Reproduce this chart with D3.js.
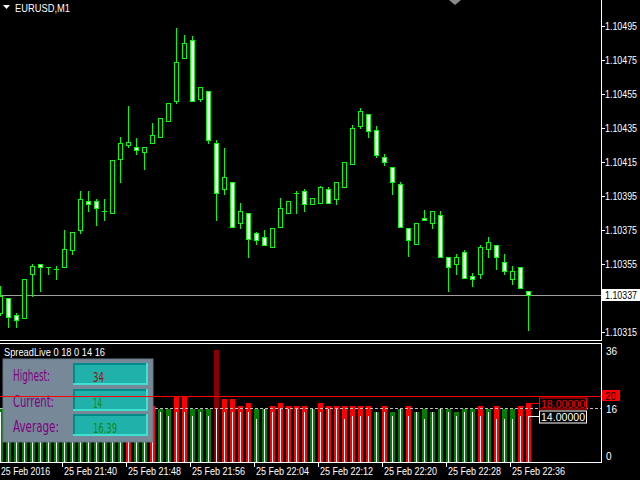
<!DOCTYPE html>
<html><head><meta charset="utf-8">
<script src="https://cdn.jsdelivr.net/npm/d3@7"></script>
<style>html,body{margin:0;padding:0;background:#000;overflow:hidden}</style>
</head><body>
<svg id="c" width="640" height="480"></svg>
<script>
// ---------- data ----------
const symbolTitle = "EURUSD,M1";
const startTime = "2016-02-25T21:32";
const opens  = [1.10326,1.10335,1.10325,1.10323,1.10349,1.10355,1.10353,1.10352,1.10353,1.10363,1.10375,1.10392,1.10392,1.10386,1.10385,1.10417,1.10425,1.10424,1.10421,1.10426,1.10430,1.10439,1.10451,1.10476,1.10487,1.10452,1.10457,1.10426,1.10399,1.10403,1.10379,1.10385,1.10373,1.10371,1.10365,1.10377,1.10385,1.10397,1.10398,1.10390,1.10391,1.10399,1.10393,1.10400,1.10414,1.10436,1.10443,1.10434,1.10418,1.10412,1.10402,1.10376,1.10367,1.10382,1.10379,1.10384,1.10359,1.10355,1.10362,1.10348,1.10349,1.10364,1.10366,1.10356,1.10346,1.10353,1.10339];
const highs  = [1.10342,1.10335,1.10326,1.10346,1.10355,1.10355,1.10353,1.10354,1.10375,1.10374,1.10398,1.10398,1.10393,1.10393,1.10416,1.10430,1.10448,1.10429,1.10424,1.10438,1.10441,1.10450,1.10494,1.10490,1.10489,1.10459,1.10457,1.10428,1.10423,1.10403,1.10391,1.10385,1.10374,1.10375,1.10376,1.10394,1.10392,1.10398,1.10399,1.10394,1.10401,1.10400,1.10403,1.10415,1.10437,1.10447,1.10443,1.10436,1.10420,1.10412,1.10403,1.10376,1.10379,1.10387,1.10386,1.10386,1.10359,1.10361,1.10363,1.10350,1.10366,1.10371,1.10366,1.10361,1.10354,1.10353,1.10339];
const lows   = [1.10325,1.10318,1.10318,1.10323,1.10336,1.10339,1.10349,1.10346,1.10353,1.10361,1.10373,1.10386,1.10378,1.10381,1.10385,1.10403,1.10424,1.10420,1.10411,1.10426,1.10430,1.10439,1.10450,1.10476,1.10451,1.10451,1.10426,1.10381,1.10396,1.10377,1.10376,1.10359,1.10367,1.10366,1.10365,1.10377,1.10385,1.10385,1.10386,1.10390,1.10391,1.10391,1.10390,1.10400,1.10414,1.10435,1.10430,1.10418,1.10413,1.10396,1.10377,1.10360,1.10367,1.10381,1.10376,1.10359,1.10339,1.10349,1.10347,1.10342,1.10347,1.10359,1.10352,1.10349,1.10343,1.10341,1.10316];
const closes = [1.10336,1.10324,1.10322,1.10346,1.10354,1.10353,1.10353,1.10352,1.10364,1.10374,1.10393,1.10390,1.10388,1.10386,1.10416,1.10426,1.10427,1.10422,1.10424,1.10431,1.10441,1.10450,1.10474,1.10485,1.10451,1.10459,1.10428,1.10397,1.10406,1.10377,1.10386,1.10370,1.10369,1.10366,1.10376,1.10388,1.10392,1.10397,1.10390,1.10394,1.10400,1.10391,1.10403,1.10415,1.10435,1.10445,1.10433,1.10419,1.10415,1.10403,1.10377,1.10369,1.10379,1.10381,1.10386,1.10359,1.10353,1.10359,1.10347,1.10346,1.10365,1.10368,1.10359,1.10351,1.10351,1.10341,1.10337];
const currentPrice = 1.10337;
const priceTicks = [1.10315,1.10355,1.10375,1.10395,1.10415,1.10435,1.10455,1.10475,1.10495];

const timeTicks  = ["21:32","21:40","21:48","21:56","22:04","22:12","22:20","22:28","22:36"];
const timeLabels = ["25 Feb 2016","25 Feb 21:40","25 Feb 21:48","25 Feb 21:56","25 Feb 22:04","25 Feb 22:12","25 Feb 22:20","25 Feb 22:28","25 Feb 22:36"];

const spreadMax = [16,15,16,15,15,16,15,14,15,16,15,15,16,15,14,15,17,16,15,
  17,16,16,20,20,16,16,16,34,19,19,17,18,16,16,17,18,17,17,17,16,18,17,17,17,17,17,17,15,17,15,16,17,15,16,15,16,16,15,16,16,17,16,17,16,16,17,18];
const spreadCur = [15,14,15,14,13,15,14,13,14,15,14,13,15,14,13,14,15,14,15,15,
  15,14,15,15,14,15,14,16,15,15,15,15,13,16,15,16,16,16,15,16,15,16,16,13,14,14,14,15,15,14,16,14,15,13,15,16,15,14,15,15,14,15,13,13,13,14,14];
const spreadAxisTicks = [36,16,0];
const indicatorName = "SpreadLive 0 18 0 14 16";
const alertLevel = 20;
const averageSpread = 16.39;
const highestSpread = 34;
const currentSpread = 14;
const lastMax = 18;
const panelLabels = ["Highest:","Current:","Average:"];
const panelValues = ["34","14","16.39"];

// ---------- layout ----------
const svg = d3.select("#c");
const FONT = "'Liberation Sans', Arial, sans-serif";
const NARROW = "'Liberation Sans Narrow', 'DejaVu Sans Condensed', sans-serif";
const axisX = 601;
const subTop = 343, subBottom = 462;
const GREEN = "#00ff00";

const parse = d3.timeParse("%Y-%m-%dT%H:%M");
const t0 = parse(startTime);
const times = opens.map((_, i) => d3.timeMinute.offset(t0, i));
const x = d3.scaleTime().domain([times[0], times[times.length - 1]]).range([0, 528]);
const y = d3.scaleLinear().domain([1.10315, 1.10495]).range([332, 26]);
const ys = d3.scaleLinear().domain([0, 36]).range([subBottom, subTop]);

svg.append("rect").attr("width", 640).attr("height", 480).attr("fill", "#000");

// ---------- main chart ----------
const candles = opens.map((o, i) => ({ t: times[i], o, h: highs[i], l: lows[i], c: closes[i] }));
const cxOf = d => Math.round(x(d.t));

const yCur = Math.round(y(currentPrice)) + 0.5;
svg.append("line").attr("x1", 0).attr("x2", axisX).attr("y1", yCur).attr("y2", yCur)
  .attr("stroke", "#a0a0a0").attr("stroke-width", 1);

const gC = svg.append("g");
gC.selectAll("line.wick").data(candles).join("line").attr("class", "wick")
  .attr("x1", d => cxOf(d) + 0.5).attr("x2", d => cxOf(d) + 0.5)
  .attr("y1", d => Math.round(y(d.h))).attr("y2", d => Math.round(y(d.l)) + 1)
  .attr("stroke", GREEN).attr("stroke-width", 1);

gC.selectAll("rect.body").data(candles.filter(d => Math.round(y(d.o)) !== Math.round(y(d.c)))).join("rect")
  .attr("class", "body")
  .attr("x", d => cxOf(d) - 1.5).attr("width", 4)
  .attr("y", d => Math.min(Math.round(y(d.o)), Math.round(y(d.c))) + 0.5)
  .attr("height", d => Math.abs(Math.round(y(d.o)) - Math.round(y(d.c))))
  .attr("fill", d => d.c > d.o ? "#000" : "#fff")
  .attr("stroke", GREEN).attr("stroke-width", 1);

gC.selectAll("line.doji").data(candles.filter(d => Math.round(y(d.o)) === Math.round(y(d.c)))).join("line")
  .attr("class", "doji")
  .attr("x1", d => cxOf(d) - 2).attr("x2", d => cxOf(d) + 3)
  .attr("y1", d => Math.round(y(d.o)) + 0.5).attr("y2", d => Math.round(y(d.o)) + 0.5)
  .attr("stroke", GREEN).attr("stroke-width", 1);

// title
svg.append("path").attr("d", "M3,5 L10,5 L6.5,9 Z").attr("fill", "#fff");
svg.append("text").attr("x", 15).attr("y", 11.5).attr("fill", "#fff")
  .attr("font-family", FONT).attr("font-size", 11).attr("textLength", 55).attr("lengthAdjust", "spacingAndGlyphs")
  .text(symbolTitle);
svg.append("path").attr("d", "M449,0 L461,0 L455,5 Z").attr("fill", "#8a8a8a");

// price axis
svg.append("line").attr("x1", axisX + 0.5).attr("x2", axisX + 0.5).attr("y1", 0).attr("y2", 340.5)
  .attr("stroke", "#fff");
const gP = svg.append("g");
gP.selectAll("line").data(priceTicks).join("line")
  .attr("x1", axisX).attr("x2", axisX + 4)
  .attr("y1", d => Math.round(y(d)) + 0.5).attr("y2", d => Math.round(y(d)) + 0.5).attr("stroke", "#fff");
gP.selectAll("text").data(priceTicks).join("text")
  .attr("x", 605).attr("y", d => Math.round(y(d)) + 3.5)
  .attr("fill", "#fff").attr("font-family", FONT).attr("font-size", 10)
  .attr("textLength", 32).attr("lengthAdjust", "spacingAndGlyphs")
  .text(d => d.toFixed(5));
svg.append("rect").attr("x", 602).attr("y", Math.round(y(currentPrice)) - 6).attr("width", 38).attr("height", 12).attr("fill", "#fff");
svg.append("text").attr("x", 605).attr("y", Math.round(y(currentPrice)) + 4)
  .attr("fill", "#000").attr("font-family", FONT).attr("font-size", 10)
  .attr("textLength", 32).attr("lengthAdjust", "spacingAndGlyphs").text(currentPrice.toFixed(5));

// separator
svg.append("line").attr("x1", 0).attr("x2", axisX + 1).attr("y1", 340.5).attr("y2", 340.5).attr("stroke", "#fff");
svg.append("line").attr("x1", 0).attr("x2", axisX + 1).attr("y1", 343.5).attr("y2", 343.5).attr("stroke", "#fff");

// ---------- indicator ----------
const spread = spreadMax.map((v, i) => ({ t: times[i], v, w: spreadCur[i] }));
const colorOf = v => v > alertLevel ? "#8b0000" : (v > averageSpread ? "#ff0000" : "#008000");
const gS = svg.append("g");
gS.selectAll("rect").data(spread).join("rect")
  .attr("x", d => cxOf(d) - 2).attr("width", 5)
  .attr("y", d => Math.round(ys(d.v))).attr("height", d => subBottom - Math.round(ys(d.v)))
  .attr("fill", d => colorOf(d.v));
gS.selectAll("line").data(spread).join("line")
  .attr("x1", d => cxOf(d) + 0.5).attr("x2", d => cxOf(d) + 0.5)
  .attr("y1", d => Math.round(ys(d.w))).attr("y2", subBottom)
  .attr("stroke", "#fff").attr("stroke-width", 1);

const yAvg = Math.round(ys(averageSpread)) + 0.5;
svg.append("line").attr("x1", 0).attr("x2", axisX).attr("y1", yAvg).attr("y2", yAvg)
  .attr("stroke", "#c0c0c0").attr("stroke-dasharray", "3,2");

svg.append("text").attr("x", 4).attr("y", 356).attr("fill", "#fff")
  .attr("font-family", FONT).attr("font-size", 10).attr("textLength", 101).attr("lengthAdjust", "spacingAndGlyphs")
  .text(indicatorName);

// info panel
const panel = svg.append("g");
panel.append("rect").attr("x", 3).attr("y", 359).attr("width", 150).attr("height", 83)
  .attr("fill", "#778899").attr("stroke", "#687888").attr("stroke-width", 1);
const boxY = [363, 389, 414];
const lblLen = [37, 41, 46];
const valLen = [11, 9, 24];
const valColor = ["#9a1010", "#108a10", "#108a10"];
boxY.forEach((by, i) => {
  panel.append("rect").attr("x", 73).attr("y", by).attr("width", 75).attr("height", 22).attr("fill", "#20b2aa");
  panel.append("rect").attr("x", 73).attr("y", by).attr("width", 75).attr("height", 2).attr("fill", "#008b8b");
  panel.append("rect").attr("x", 73).attr("y", by).attr("width", 2).attr("height", 22).attr("fill", "#008b8b");
  panel.append("rect").attr("x", 73).attr("y", by + 20).attr("width", 75).attr("height", 2).attr("fill", "#40e0d0");
  panel.append("rect").attr("x", 146).attr("y", by).attr("width", 2).attr("height", 22).attr("fill", "#40e0d0");
  panel.append("text").attr("x", 13).attr("y", by + 18).attr("fill", "#800080")
    .attr("font-family", NARROW).attr("font-size", 15.5)
    .attr("textLength", lblLen[i]).attr("lengthAdjust", "spacingAndGlyphs").text(panelLabels[i]);
  panel.append("text").attr("x", 93).attr("y", by + 18.5).attr("fill", valColor[i])
    .attr("font-family", NARROW).attr("font-size", 14)
    .attr("textLength", valLen[i]).attr("lengthAdjust", "spacingAndGlyphs").text(panelValues[i]);
});

const yAlert = Math.round(ys(alertLevel)) + 0.5;
svg.append("line").attr("x1", 0).attr("x2", axisX).attr("y1", yAlert).attr("y2", yAlert)
  .attr("stroke", "#ff0000").attr("stroke-width", 1);

// indicator axis
svg.append("line").attr("x1", axisX + 0.5).attr("x2", axisX + 0.5).attr("y1", subTop).attr("y2", subBottom + 0.5).attr("stroke", "#fff");
const clampY = v => Math.max(subTop + 8, Math.min(subBottom - 6, ys(v)));
svg.append("g").selectAll("text").data(spreadAxisTicks).join("text")
  .attr("x", 606).attr("y", d => Math.round(clampY(d)) + 4)
  .attr("fill", "#fff").attr("font-family", FONT).attr("font-size", 10).text(d => d);
svg.append("rect").attr("x", 602).attr("y", Math.round(ys(alertLevel)) - 6).attr("width", 18).attr("height", 11).attr("fill", "#ff0000");
svg.append("text").attr("x", 605).attr("y", Math.round(ys(alertLevel)) + 3.5).attr("fill", "#000")
  .attr("font-family", FONT).attr("font-size", 10).text(alertLevel);

// last value labels
const last = spread[spread.length - 1];
const lx = cxOf(last) + 1;
const yMaxL = Math.round(ys(lastMax)) + 0.5;
const yCurL = Math.round(ys(currentSpread)) + 0.5;
svg.append("line").attr("x1", lx).attr("x2", 539).attr("y1", yMaxL).attr("y2", yMaxL).attr("stroke", "#ff0000");
svg.append("rect").attr("x", 539.5).attr("y", yMaxL - 5.5).attr("width", 47).attr("height", 11).attr("fill", "#000").attr("stroke", "#ff0000");
svg.append("text").attr("x", 541).attr("y", yMaxL + 4).attr("fill", "#ff0000").attr("font-family", FONT)
  .attr("font-size", 10.5).attr("textLength", 44).attr("lengthAdjust", "spacingAndGlyphs").text(lastMax.toFixed(5));
svg.append("line").attr("x1", lx).attr("x2", 539).attr("y1", yCurL).attr("y2", yCurL).attr("stroke", "#fff");
svg.append("rect").attr("x", 539.5).attr("y", yCurL - 5.5).attr("width", 47).attr("height", 12).attr("fill", "#000").attr("stroke", "#fff");
svg.append("text").attr("x", 541).attr("y", yCurL + 4.5).attr("fill", "#fff").attr("font-family", FONT)
  .attr("font-size", 10.5).attr("textLength", 44).attr("lengthAdjust", "spacingAndGlyphs").text(currentSpread.toFixed(5));

// time axis
svg.append("line").attr("x1", 0).attr("x2", axisX + 1).attr("y1", subBottom + 0.5).attr("y2", subBottom + 0.5).attr("stroke", "#fff");
const ticks = timeTicks.map((s, i) => ({ t: parse("2016-02-25T" + s), label: timeLabels[i] }));
const gT = svg.append("g");
gT.selectAll("line").data(ticks).join("line")
  .attr("x1", d => Math.round(x(d.t)) - 1.5).attr("x2", d => Math.round(x(d.t)) - 1.5)
  .attr("y1", subBottom).attr("y2", subBottom + 5).attr("stroke", "#fff");
gT.selectAll("text").data(ticks).join("text")
  .attr("x", (d, i) => i === 0 ? 1 : Math.round(x(d.t)))
  .attr("y", 475).attr("fill", "#fff").attr("font-family", FONT).attr("font-size", 10)
  .attr("textLength", (d, i) => i === 0 ? 49 : 53).attr("lengthAdjust", "spacingAndGlyphs")
  .text(d => d.label);
</script>
</body></html>
